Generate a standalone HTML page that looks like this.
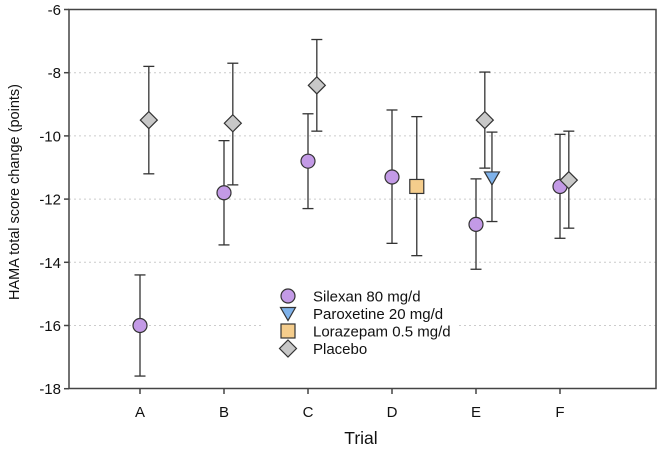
<!DOCTYPE html>
<html><head><meta charset="utf-8"><style>
body{margin:0;background:#fff}
svg{display:block;font-family:"Liberation Sans",Arial,sans-serif}
</style></head><body>
<svg id="chart" width="661" height="451">
<g id="grid"></g>
<rect x="262" y="283" width="196" height="78" fill="#fff"/>
<g id="marks"></g>
<rect x="69" y="9.5" width="587" height="379" fill="none" stroke="#444" stroke-width="1.5"/>
<g id="axes"></g>
<text x="15" y="192" transform="rotate(-90 15 192)" text-anchor="middle" dominant-baseline="central" font-size="14.5" fill="#111">HAMA total score change (points)</text>
<text x="361" y="444" text-anchor="middle" font-size="17.5" fill="#111">Trial</text>
<g id="legend"></g>
</svg>
<script>
const categories=["A","B","C","D","E","F"];
const yTicks=[-6,-8,-10,-12,-14,-16,-18];
const silexanMean=[-16,-11.8,-10.8,-11.3,-12.8,-11.6];
const silexanLow=[-17.6,-13.45,-12.3,-13.4,-14.22,-13.24];
const silexanHigh=[-14.4,-10.15,-9.3,-9.18,-11.36,-9.95];
const placeboCats=[0,1,2,4,5];
const placeboMean=[-9.5,-9.6,-8.4,-9.5,-11.4];
const placeboLow=[-11.2,-11.55,-9.85,-11.02,-12.92];
const placeboHigh=[-7.8,-7.7,-6.95,-7.98,-9.85];
const lorazepamCats=[3];
const lorazepamMean=[-11.6];
const lorazepamLow=[-13.79];
const lorazepamHigh=[-9.39];
const paroxetineCats=[4];
const paroxetineMean=[-11.33];
const paroxetineLow=[-12.71];
const paroxetineHigh=[-9.88];
const legendLabels=["Silexan 80 mg/d","Paroxetine 20 mg/d","Lorazepam 0.5 mg/d","Placebo"];

const NS="http://www.w3.org/2000/svg";
const X=(i,off)=>140+84*(i+(off||0));
const Y=v=>9.5+(-6-v)*31.6;
function mk(tag,attrs,parent){const e=document.createElementNS(NS,tag);for(const k in attrs)e.setAttribute(k,attrs[k]);parent.appendChild(e);return e;}
const grid=document.getElementById('grid'),axes=document.getElementById('axes'),marks=document.getElementById('marks'),legend=document.getElementById('legend');
yTicks.forEach(t=>{
  if(t!==-6&&t!==-18){const l=mk('line',{x1:69,x2:656,y1:Y(t),y2:Y(t),stroke:'#ccc','stroke-dasharray':'2,3'},grid);
  
  }
  const tk=mk('line',{x1:64,x2:69,y1:Y(t),y2:Y(t),stroke:'#444','stroke-width':1.5},axes);
  
  
  const tx=mk('text',{x:61,y:Y(t)+5.5,'text-anchor':'end','font-size':15,fill:'#111'},axes);tx.textContent=t;
  
  
});
categories.forEach((c,i)=>{
  const tk=mk('line',{x1:X(i),x2:X(i),y1:388.5,y2:394,stroke:'#444','stroke-width':1.5},axes);
  
  
  const tx=mk('text',{x:X(i),y:417,'text-anchor':'middle','font-size':15,fill:'#111'},axes);tx.textContent=c;
  
  
});
function marker(shape,cx,cy,g){
  const st={stroke:'#333','stroke-width':1.2};
  if(shape==='circle')return mk('circle',Object.assign({cx:cx,cy:cy,r:7,fill:'#c39ae6'},st),g);
  if(shape==='tri')return mk('polygon',Object.assign({points:`${cx-7.5},${cy-6} ${cx+7.5},${cy-6} ${cx},${cy+7}`,fill:'#7fb2ea'},st),g);
  if(shape==='square')return mk('rect',Object.assign({x:cx-7,y:cy-7,width:14,height:14,fill:'#f5cd8c'},st),g);
  return mk('polygon',Object.assign({points:`${cx},${cy-8.5} ${cx+8.5},${cy} ${cx},${cy+8.5} ${cx-8.5},${cy}`,fill:'#c8c8c8'},st),g);
}
function series(name,cats,mean,low,high,off,shape){
  cats.forEach((ci,k)=>{
    const cx=X(ci,off);
    const g=mk('g',{},marks);
    
    
    mk('line',{x1:cx,x2:cx,y1:Y(high[k]),y2:Y(low[k]),stroke:'#333','stroke-width':1.3},g);
    mk('line',{x1:cx-5.5,x2:cx+5.5,y1:Y(high[k]),y2:Y(high[k]),stroke:'#333','stroke-width':1.3},g);
    mk('line',{x1:cx-5.5,x2:cx+5.5,y1:Y(low[k]),y2:Y(low[k]),stroke:'#333','stroke-width':1.3},g);
    marker(shape,cx,Y(mean[k]),g);
  });
}
series('silexan',[0,1,2,3,4,5],silexanMean,silexanLow,silexanHigh,0,'circle');
series('placebo',placeboCats,placeboMean,placeboLow,placeboHigh,0.105,'diamond');
series('lorazepam',lorazepamCats,lorazepamMean,lorazepamLow,lorazepamHigh,0.295,'square');
series('paroxetine',paroxetineCats,paroxetineMean,paroxetineLow,paroxetineHigh,0.19,'tri');
const shapes=['circle','tri','square','diamond'];
legendLabels.forEach((lab,i)=>{
  const g=mk('g',{},legend);
  
  
  const y=296+17.5*i;
  marker(shapes[i],288,y,g);
  const t=mk('text',{x:313,y:y+5.5,'font-size':15,fill:'#111'},g);t.textContent=lab;
});
</script>
</body></html>
